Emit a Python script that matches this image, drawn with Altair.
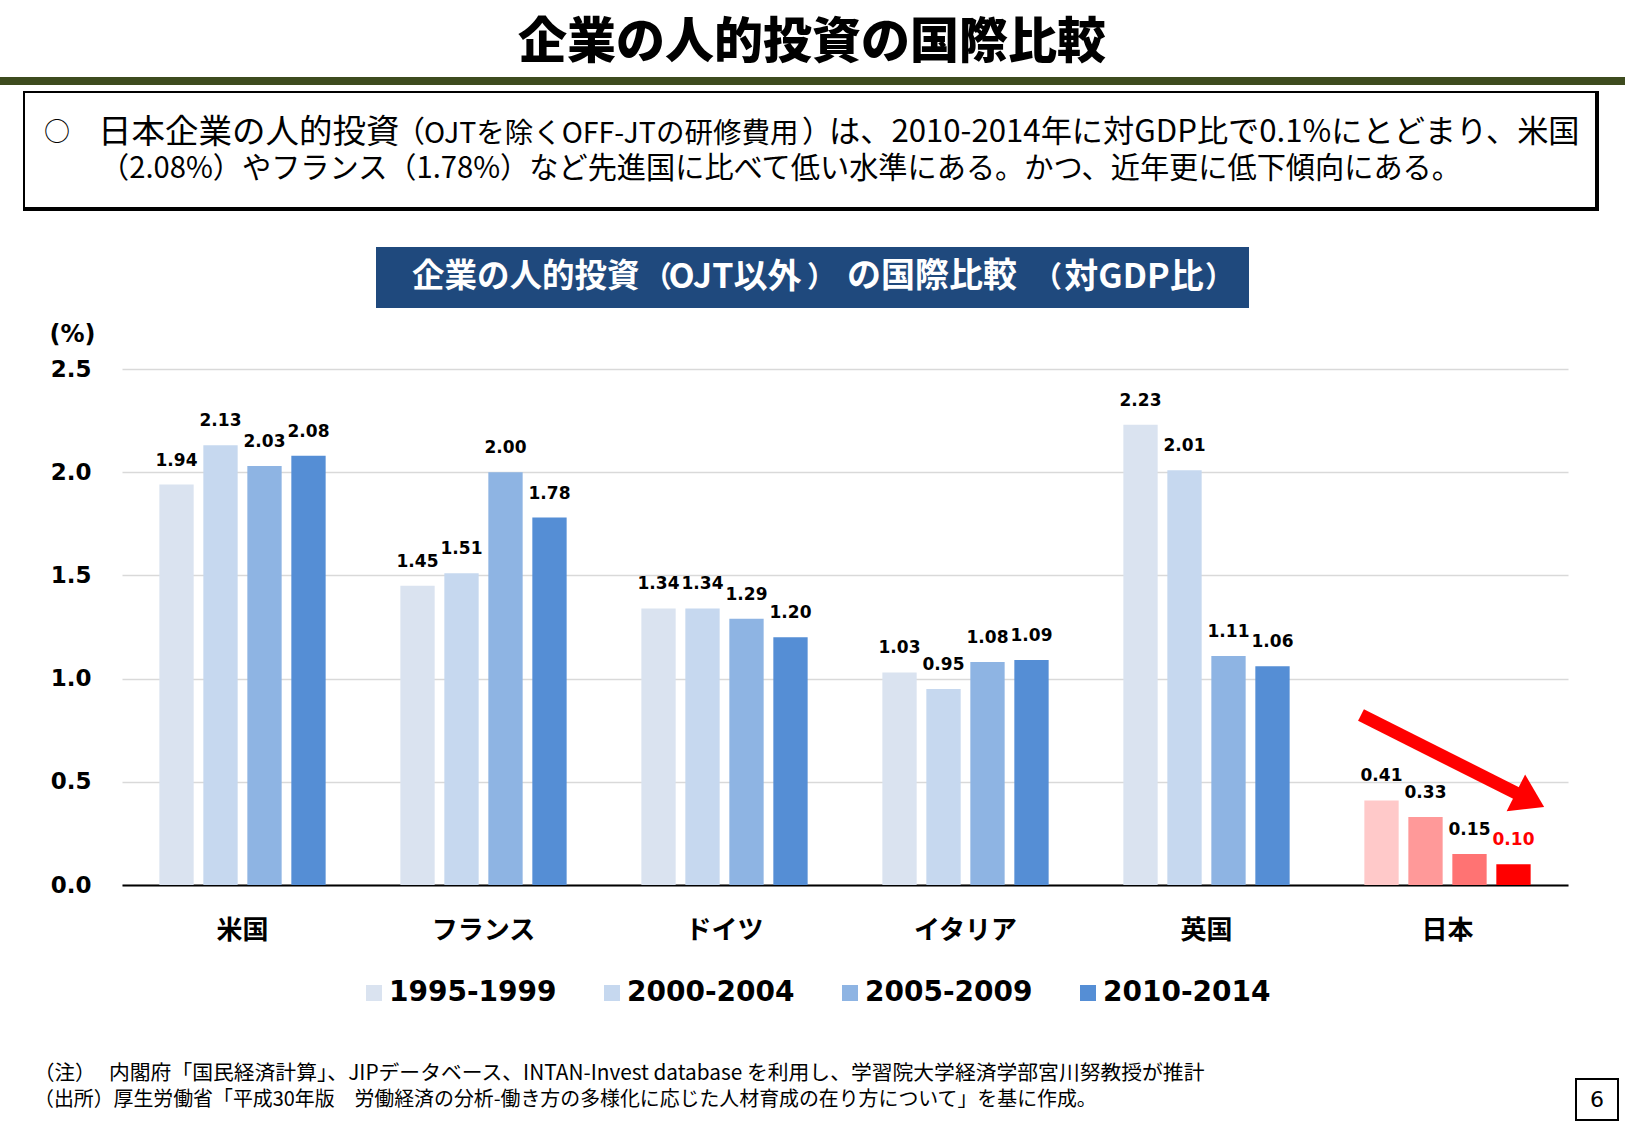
import altair as alt
import pandas as pd

# ---------------- data ----------------
countries = ["米国", "フランス", "ドイツ", "イタリア", "英国", "日本"]
periods = ["1995-1999", "2000-2004", "2005-2009", "2010-2014"]
usa = [1.94, 2.13, 2.03, 2.08]
france = [1.45, 1.51, 2.00, 1.78]
germany = [1.34, 1.34, 1.29, 1.20]
italy = [1.03, 0.95, 1.08, 1.09]
uk = [2.23, 2.01, 1.11, 1.06]
japan = [0.41, 0.33, 0.15, 0.10]
blue_colors = ["#DAE3F0", "#C6D8EF", "#8EB4E3", "#558ED5"]
red_colors = ["#FFC9C9", "#FF9999", "#FF7373", "#FF0000"]
y_ticks = [0.0, 0.5, 1.0, 1.5, 2.0, 2.5]

title_text = "企業の人的投資の国際比較"
box_line1 = ["○", "日本企業の人的投資", "（", "OJTを除くOFF-JTの研修費用", "）",
             "は、2010-2014年に対GDP比で0.1%にとどまり、米国"]
box_line2 = "（2.08%）やフランス（1.78%）など先進国に比べて低い水準にある。かつ、近年更に低下傾向にある。"
banner_parts = ["企業の人的投資", "（", "OJT以外", "）", "の国際比較", "（", "対GDP比", "）"]
note1_head = "（注）"
note1 = "内閣府「国民経済計算」、JIPデータベース、INTAN-Invest database を利用し、学習院大学経済学部宮川努教授が推計"
note2 = "（出所）厚生労働省「平成30年版　労働経済の分析-働き方の多様化に応じた人材育成の在り方について」を基に作成。"
page_no = "6"

JP = "Noto Sans CJK JP"
NUM = "DejaVu Sans"

series = [usa, france, germany, italy, uk, japan]
rows = []
for c, vals in zip(countries, series):
    for p, v in zip(periods, vals):
        key = p if c != "日本" else "日本 " + p
        lc = "#FF0000" if (c == "日本" and p == periods[-1]) else "#000000"
        rows.append({"country": c, "period": p, "value": v, "key": key,
                     "label": f"{v:.2f}", "lc": lc})
df = pd.DataFrame(rows)
jp_keys = ["日本 " + p for p in periods]

# ---------------- layout ----------------
W, H = 1625, 1125
PL, PT = 122, 369
PW, PH = 1446, 516

x_enc = alt.X("country:N", sort=countries,
              scale=alt.Scale(paddingInner=0.31, paddingOuter=0.155),
              axis=alt.Axis(title=None, labelAngle=0, labelFont=JP, labelFontSize=26,
                            labelFontWeight="bold", labelColor="#000000", labelPadding=32,
                            ticks=False, domain=True, domainColor="#000000", domainWidth=2,
                            grid=False))
xo_enc = alt.XOffset("period:N", sort=periods,
                     scale=alt.Scale(paddingInner=0.22, paddingOuter=0))
y_enc = alt.Y("value:Q", scale=alt.Scale(domain=[0, 2.5], nice=False),
              axis=alt.Axis(title="(%)", titleAngle=0, titleAlign="center",
                            titleBaseline="middle", titleX=-50, titleY=-35,
                            titleFont=NUM, titleFontSize=24, titleFontWeight="bold",
                            titleColor="#000000",
                            values=y_ticks, format=".1f", labelFont=NUM, labelFontSize=23,
                            labelFontWeight="bold", labelColor="#000000", labelPadding=31,
                            ticks=False, domain=False, grid=True, gridColor="#D9D9D9",
                            gridWidth=1.5))

bars = alt.Chart(df).mark_bar().encode(
    x=x_enc, xOffset=xo_enc, y=y_enc,
    color=alt.Color("key:N",
                    scale=alt.Scale(domain=periods + jp_keys, range=blue_colors + red_colors),
                    legend=alt.Legend(values=periods, title=None, orient="none",
                                      legendX=238, legendY=610, direction="horizontal",
                                      columns=4, symbolType="square", symbolSize=256,
                                      symbolStrokeWidth=0, labelFont=NUM, labelFontSize=28,
                                      labelFontWeight="bold", labelColor="#000000",
                                      labelLimit=0, columnPadding=41, labelOffset=1)),
)

labels = alt.Chart(df).mark_text(font=NUM, fontSize=17, fontWeight="bold",
                                 baseline="middle", dy=-24).encode(
    x=alt.X("country:N", sort=countries), xOffset=alt.XOffset("period:N", sort=periods),
    y="value:Q", text="label:N",
    color=alt.Color("lc:N", scale=None, legend=None),
)

one = pd.DataFrame({"k": [0]})


def txt(s, x, y, size, weight="normal", color="#000000", align="left", font=JP):
    return alt.Chart(one).mark_text(fontSize=size, fontWeight=weight, color=color,
                                    align=align, baseline="middle", font=font).encode(
        x=alt.value(x - PL), y=alt.value(y - PT), text=alt.value(s))


def rect(x1, y1, x2, y2, fill=None, stroke=None, sw=0):
    kw = {}
    if fill is not None:
        kw["fill"] = fill
    else:
        kw["fillOpacity"] = 0
    if stroke is not None:
        kw["stroke"] = stroke
        kw["strokeWidth"] = sw
    return alt.Chart(one).mark_rect(**kw).encode(
        x=alt.value(x1 - PL), x2=alt.value(x2 - PL),
        y=alt.value(y1 - PT), y2=alt.value(y2 - PT))


WH = "#FFFFFF"
decor = [
    txt(title_text, 812, 43, 49, weight=900, align="center"),
    rect(0, 77, W, 85, fill="#3D4B1E"),
    rect(23, 91, 1599, 211, fill="#000000"),
    rect(25, 93, 1595, 207, fill="#FFFFFF"),
    txt(box_line1[0], 44, 133, 26),
    txt(box_line1[1], 98, 133, 33.5),
    txt(box_line1[2], 395, 133, 30),
    txt(box_line1[3], 424, 134, 28.5),
    txt(box_line1[4], 802, 133, 30),
    txt(box_line1[5], 829, 133, 31.2),
    txt(box_line2, 100, 169, 29.2),
    rect(376, 247, 1249, 308, fill="#1F497D"),
    txt(banner_parts[0], 412, 277, 32.5, weight="bold", color=WH),
    txt(banner_parts[1], 643, 278, 29, weight="bold", color=WH),
    txt(banner_parts[2], 735, 278, 34, weight="bold", color=WH, align="center"),
    txt(banner_parts[3], 807, 278, 29, weight="bold", color=WH),
    txt(banner_parts[4], 932, 277, 34, weight="bold", color=WH, align="center"),
    txt(banner_parts[5], 1033, 278, 29, weight="bold", color=WH),
    txt(banner_parts[6], 1134, 278, 34, weight="bold", color=WH, align="center"),
    txt(banner_parts[7], 1205, 278, 29, weight="bold", color=WH),
    txt(note1_head, 34, 1074, 20.5),
    txt(note1, 109, 1074, 20.8),
    txt(note2, 34, 1100, 19.9),
    rect(1576, 1079, 1618, 1120, stroke="#000000", sw=2),
    txt(page_no, 1597, 1100, 22, align="center", font=NUM),
]

# red trend arrow (annotation)
arrow_shaft = alt.Chart(one).mark_rule(color="#FF0000", strokeWidth=13, strokeCap="butt").encode(
    x=alt.value(1361 - PL), y=alt.value(715 - PT),
    x2=alt.value(1520 - PL), y2=alt.value(795 - PT))
arrow_head = alt.Chart(one).mark_point(
    shape="M-1,-1.3L1,0L-1,1.3Z", filled=True, fill="#FF0000", stroke="#FF0000",
    strokeWidth=0, opacity=1, size=1000, angle=26.7).encode(
    x=alt.value(1530 - PL), y=alt.value(800 - PT))

chart = alt.layer(bars, labels, *decor, arrow_shaft, arrow_head).resolve_scale(
    color="independent"
).properties(
    width=PW, height=PH,
    autosize=alt.AutoSizeParams(type="none"),
    padding={"left": PL, "top": PT, "right": W - PL - PW, "bottom": H - PT - PH},
    background="#FFFFFF",
).configure_view(stroke=None)

chart.save("out.html", embed_options={"renderer": "svg", "actions": False})
